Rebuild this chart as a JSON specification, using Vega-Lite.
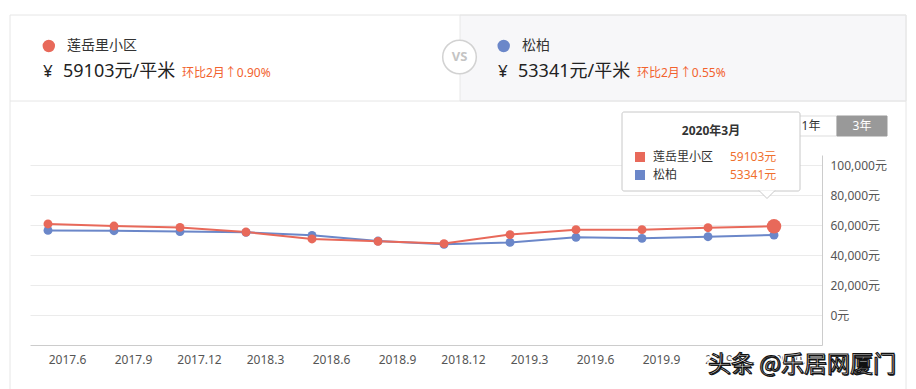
{
  "$schema": "https://vega.github.io/schema/vega-lite/v6.json",
  "width": 792,
  "height": 190,
  "autosize": {"type": "none"},
  "padding": {"left": 30, "top": 155, "right": 94, "bottom": 44},
  "background": "white",
  "config": {
    "view": {"stroke": null},
    "font": "Noto Sans, Noto Sans CJK SC, sans-serif",
    "axis": {"labelFont": "Noto Sans, Noto Sans CJK SC, sans-serif", "labelFontSize": 12, "labelColor": "#555555"}
  },
  "data": {
    "values": [
      {"month": "2017.6", "name": "松柏", "price": 56400},
      {"month": "2017.9", "name": "松柏", "price": 56200},
      {"month": "2017.12", "name": "松柏", "price": 55600},
      {"month": "2018.3", "name": "松柏", "price": 55100},
      {"month": "2018.6", "name": "松柏", "price": 53100},
      {"month": "2018.9", "name": "松柏", "price": 49300},
      {"month": "2018.12", "name": "松柏", "price": 47100},
      {"month": "2019.3", "name": "松柏", "price": 48400},
      {"month": "2019.6", "name": "松柏", "price": 51800},
      {"month": "2019.9", "name": "松柏", "price": 51100},
      {"month": "2019.12", "name": "松柏", "price": 52200},
      {"month": "2020.3", "name": "松柏", "price": 53341},
      {"month": "2017.6", "name": "莲岳里小区", "price": 60700},
      {"month": "2017.9", "name": "莲岳里小区", "price": 59300},
      {"month": "2017.12", "name": "莲岳里小区", "price": 58400},
      {"month": "2018.3", "name": "莲岳里小区", "price": 55300},
      {"month": "2018.6", "name": "莲岳里小区", "price": 50700},
      {"month": "2018.9", "name": "莲岳里小区", "price": 49100},
      {"month": "2018.12", "name": "莲岳里小区", "price": 47600},
      {"month": "2019.3", "name": "莲岳里小区", "price": 53600},
      {"month": "2019.6", "name": "莲岳里小区", "price": 56900},
      {"month": "2019.9", "name": "莲岳里小区", "price": 56900},
      {"month": "2019.12", "name": "莲岳里小区", "price": 58200},
      {"month": "2020.3", "name": "莲岳里小区", "price": 59103}
    ]
  },
  "layer": [
    {
      "data": {"values": [{}]},
      "mark": {"type": "rect", "fill": "#f7f7f9", "stroke": "#e8e8e8", "strokeWidth": 1},
      "encoding": {"x": {"value": 430}, "x2": {"value": 876}, "y": {"value": -140}, "y2": {"value": -54}}
    },
    {
      "data": {"values": [{}]},
      "mark": {"type": "rect", "fillOpacity": 0, "stroke": "#e6e6e6", "strokeWidth": 1},
      "encoding": {"x": {"value": -20}, "x2": {"value": 876}, "y": {"value": -140}, "y2": {"value": 250}}
    },
    {
      "data": {"values": [{}]},
      "mark": {"type": "rule", "stroke": "#e6e6e6", "strokeWidth": 1},
      "encoding": {"x": {"value": -20}, "x2": {"value": 876}, "y": {"value": -54}}
    },
    {
      "data": {"values": [{}]},
      "mark": {"type": "point", "shape": "circle", "filled": true, "fill": "white", "stroke": "#d2d2d2", "strokeWidth": 1.5, "size": 1130, "opacity": 1},
      "encoding": {"x": {"value": 429.5}, "y": {"value": -98}}
    },
    {
      "data": {"values": [{}]},
      "mark": {"type": "text", "text": "VS", "fontSize": 13, "fontWeight": "bold", "color": "#c4c4c4", "align": "center", "baseline": "middle"},
      "encoding": {"x": {"value": 429.5}, "y": {"value": -98}}
    },
    {
      "data": {"values": [{}]},
      "mark": {"type": "circle", "size": 154, "opacity": 1, "color": "#e8695a"},
      "encoding": {"x": {"value": 18.8}, "y": {"value": -109}}
    },
    {
      "data": {"values": [{}]},
      "mark": {"type": "circle", "size": 154, "opacity": 1, "color": "#6b87c9"},
      "encoding": {"x": {"value": 473.7}, "y": {"value": -109}}
    },
    {
      "data": {"values": [{}]},
      "mark": {"type": "text", "text": "莲岳里小区", "fontSize": 14, "color": "#333333", "align": "left", "baseline": "middle", "font": "Noto Sans CJK SC"},
      "encoding": {"x": {"value": 37}, "y": {"value": -109}}
    },
    {
      "data": {"values": [{}]},
      "mark": {"type": "text", "text": "松柏", "fontSize": 14, "color": "#333333", "align": "left", "baseline": "middle", "font": "Noto Sans CJK SC"},
      "encoding": {"x": {"value": 492}, "y": {"value": -109}}
    },
    {
      "data": {"values": [{}]},
      "mark": {"type": "text", "text": "¥", "fontSize": 17, "color": "#222222", "align": "left", "baseline": "middle"},
      "encoding": {"x": {"value": 13}, "y": {"value": -83}}
    },
    {
      "data": {"values": [{}]},
      "mark": {"type": "text", "text": "¥", "fontSize": 17, "color": "#222222", "align": "left", "baseline": "middle"},
      "encoding": {"x": {"value": 468}, "y": {"value": -83}}
    },
    {
      "data": {"values": [{}]},
      "mark": {"type": "text", "text": "59103元/平米", "fontSize": 18, "color": "#222222", "align": "left", "baseline": "middle"},
      "encoding": {"x": {"value": 33}, "y": {"value": -83}}
    },
    {
      "data": {"values": [{}]},
      "mark": {"type": "text", "text": "53341元/平米", "fontSize": 18, "color": "#222222", "align": "left", "baseline": "middle"},
      "encoding": {"x": {"value": 488}, "y": {"value": -83}}
    },
    {
      "data": {"values": [{}]},
      "mark": {"type": "text", "text": "环比2月↑0.90%", "fontSize": 12, "color": "#f2622e", "align": "left", "baseline": "middle"},
      "encoding": {"x": {"value": 152}, "y": {"value": -82}}
    },
    {
      "data": {"values": [{}]},
      "mark": {"type": "text", "text": "环比2月↑0.55%", "fontSize": 12, "color": "#f2622e", "align": "left", "baseline": "middle"},
      "encoding": {"x": {"value": 607}, "y": {"value": -82}}
    },
    {
      "data": {"values": [{}]},
      "mark": {"type": "rect", "fill": "white", "stroke": "#dddddd", "strokeWidth": 1},
      "encoding": {"x": {"value": 757}, "x2": {"value": 807}, "y": {"value": -39}, "y2": {"value": -19}}
    },
    {
      "data": {"values": [{}]},
      "mark": {"type": "rect", "fill": "#999999", "stroke": "#999999", "strokeWidth": 1},
      "encoding": {"x": {"value": 807}, "x2": {"value": 857}, "y": {"value": -39}, "y2": {"value": -19}}
    },
    {
      "data": {"values": [{}]},
      "mark": {"type": "text", "text": "1年", "fontSize": 12, "color": "#333333", "align": "center", "baseline": "middle"},
      "encoding": {"x": {"value": 781}, "y": {"value": -29}}
    },
    {
      "data": {"values": [{}]},
      "mark": {"type": "text", "text": "3年", "fontSize": 12, "color": "white", "align": "center", "baseline": "middle"},
      "encoding": {"x": {"value": 832}, "y": {"value": -29}}
    },
    {
      "encoding": {
        "x": {
          "field": "month",
          "type": "ordinal",
          "sort": null,
          "scale": {"type": "point", "padding": 0.5, "align": 0.2727},
          "axis": {"title": null, "ticks": false, "grid": false, "domainColor": "#cccccc", "labelAngle": 0, "labelOffset": 19, "labelPadding": 9}
        },
        "y": {
          "field": "price",
          "type": "quantitative",
          "scale": {"domain": [-20000, 106667], "nice": false, "zero": false},
          "axis": {"title": null, "orient": "right", "values": [0, 20000, 40000, 60000, 80000, 100000], "labelExpr": "format(datum.value, ',') + '元'", "ticks": false, "grid": true, "gridColor": "#ebebeb", "domainColor": "#cccccc", "labelPadding": 8}
        },
        "color": {
          "field": "name",
          "type": "nominal",
          "scale": {"domain": ["莲岳里小区", "松柏"], "range": ["#e8695a", "#6b87c9"]},
          "legend": null
        }
      },
      "layer": [
        {"mark": {"type": "line", "strokeWidth": 2}},
        {"mark": {"type": "circle", "size": 80, "opacity": 1}},
        {
          "transform": [{"filter": "datum.month === '2020.3' && datum.name === '莲岳里小区'"}],
          "mark": {"type": "circle", "size": 210, "opacity": 1}
        }
      ]
    },
    {
      "data": {"values": [{}]},
      "mark": {"type": "rect", "fill": "white", "stroke": "#c8c8c8", "strokeWidth": 1, "cornerRadius": 2},
      "encoding": {"x": {"value": 592}, "x2": {"value": 770}, "y": {"value": -43}, "y2": {"value": 36}}
    },
    {
      "data": {"values": [{}]},
      "mark": {"type": "point", "shape": "M -1 0 L 0 1 L 1 0", "filled": true, "fill": "white", "stroke": "#c8c8c8", "strokeWidth": 1, "size": 256, "opacity": 1},
      "encoding": {"x": {"value": 737}, "y": {"value": 35.5}}
    },
    {
      "data": {"values": [{}]},
      "mark": {"type": "text", "text": "2020年3月", "fontSize": 12, "fontWeight": "bold", "color": "#333333", "align": "center", "baseline": "middle"},
      "encoding": {"x": {"value": 681}, "y": {"value": -24}}
    },
    {
      "data": {"values": [{}]},
      "mark": {"type": "square", "size": 100, "opacity": 1, "color": "#e8695a"},
      "encoding": {"x": {"value": 610}, "y": {"value": 2}}
    },
    {
      "data": {"values": [{}]},
      "mark": {"type": "square", "size": 100, "opacity": 1, "color": "#6b87c9"},
      "encoding": {"x": {"value": 610}, "y": {"value": 20}}
    },
    {
      "data": {"values": [{}]},
      "mark": {"type": "text", "text": "莲岳里小区", "fontSize": 12, "color": "#333333", "align": "left", "baseline": "middle"},
      "encoding": {"x": {"value": 623}, "y": {"value": 2}}
    },
    {
      "data": {"values": [{}]},
      "mark": {"type": "text", "text": "松柏", "fontSize": 12, "color": "#333333", "align": "left", "baseline": "middle"},
      "encoding": {"x": {"value": 623}, "y": {"value": 20}}
    },
    {
      "data": {"values": [{}]},
      "mark": {"type": "text", "text": "59103元", "fontSize": 12, "color": "#f0702e", "align": "left", "baseline": "middle"},
      "encoding": {"x": {"value": 700}, "y": {"value": 2}}
    },
    {
      "data": {"values": [{}]},
      "mark": {"type": "text", "text": "53341元", "fontSize": 12, "color": "#f0702e", "align": "left", "baseline": "middle"},
      "encoding": {"x": {"value": 700}, "y": {"value": 20}}
    },
    {
      "data": {"values": [{}]},
      "mark": {"type": "text", "text": "头条 @乐居网厦门", "fontSize": 23, "font": "Noto Sans CJK SC", "fill": "white", "stroke": "white", "strokeWidth": 4, "align": "left", "baseline": "middle"},
      "encoding": {"x": {"value": 678}, "y": {"value": 210}}
    },
    {
      "data": {"values": [{}]},
      "mark": {"type": "text", "text": "头条 @乐居网厦门", "fontSize": 23, "font": "Noto Sans CJK SC", "color": "#222222", "dx": 1.2, "dy": 1.2, "align": "left", "baseline": "middle"},
      "encoding": {"x": {"value": 678}, "y": {"value": 210}}
    },
    {
      "data": {"values": [{}]},
      "mark": {"type": "text", "text": "头条 @乐居网厦门", "fontSize": 23, "font": "Noto Sans CJK SC", "fill": "#f4f4f4", "stroke": "#111111", "strokeWidth": 1.1, "align": "left", "baseline": "middle"},
      "encoding": {"x": {"value": 678}, "y": {"value": 210}}
    }
  ]
}
